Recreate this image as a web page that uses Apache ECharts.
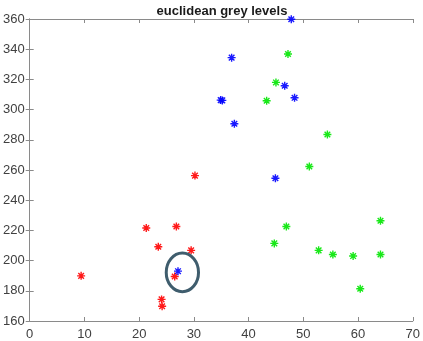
<!DOCTYPE html>
<html>
<head>
<meta charset="utf-8">
<script src="https://cdn.jsdelivr.net/npm/echarts@6/dist/echarts.min.js"></script>
<style>
  html, body { margin: 0; padding: 0; background: #fff; }
  #chart { width: 423px; height: 341px; }
</style>
</head>
<body>
<div id="chart"></div>
<script>
// points, [x, y]
const redPoints = [
  [30.2, 256.3], [21.3, 221.6], [26.8, 222.6], [23.5, 209.2], [29.5, 206.8],
  [9.4, 189.9], [26.5, 189.5], [24.1, 174.3], [24.2, 169.8]
]
const greenPoints = [
  [47.2, 336.8], [45.0, 318.0], [43.3, 305.9], [54.4, 283.5], [51.1, 262.3],
  [64.1, 226.4], [46.9, 222.6], [44.7, 211.4], [52.8, 206.8], [55.4, 204.0],
  [59.1, 203.0], [64.1, 204.0], [60.4, 181.4]
]
const bluePoints = [
  [47.8, 359.8], [36.9, 334.4], [34.9, 306.3], [35.2, 306.1], [46.6, 315.8],
  [48.4, 307.8], [37.4, 290.6], [44.9, 254.5], [27.1, 193.0]
]
// ellipse drawn round the odd point: centre and radii in data units
const ringCentre = [[27.9, 192.2]]
const ringRadius = [2.95, 12.8]

const xTicks = [0, 10, 20, 30, 40, 50, 60, 70]
const yTicks = [160, 180, 200, 220, 240, 260, 280, 300, 320, 340, 360]

const starPath = 'path://M0,-1L0,1M-1,0L1,0M-0.7,-0.7L0.7,0.7M-0.7,0.7L0.7,-0.7'
const axisColor = '#8a8a8a'
const labelColor = '#404040'
const font = 'Liberation Sans, Arial, sans-serif'

function starSeries(data, color) {
  return {
    type: 'scatter',
    data: data,
    symbol: starPath,
    symbolSize: 8,
    itemStyle: { color: 'none', borderColor: color, borderWidth: 1.4, opacity: 0.9 },
    emphasis: { disabled: true },
    z: 3
  }
}

const chart = echarts.init(document.getElementById('chart'))

chart.setOption({
  animation: false,
  title: {
    text: 'euclidean grey levels',
    left: 217,
    textAlign: 'center',
    top: 0,
    textStyle: { fontFamily: font, fontSize: 13, fontWeight: 'bold', color: '#1a1a1a' }
  },
  grid: { left: 29, right: 8, top: 19, bottom: 18 },
  xAxis: [{
    type: 'value',
    min: xTicks[0],
    max: xTicks[xTicks.length - 1],
    interval: 10,
    axisLine: { lineStyle: { color: axisColor, width: 1 } },
    axisTick: { inside: true, length: 4, lineStyle: { color: axisColor } },
    axisLabel: { color: labelColor, fontFamily: font, fontSize: 13, margin: 7 },
    splitLine: { show: false }
  }, {
    type: 'value',
    position: 'top',
    min: xTicks[0],
    max: xTicks[xTicks.length - 1],
    interval: 10,
    axisLine: { lineStyle: { color: axisColor, width: 1 } },
    axisTick: { inside: true, length: 4, lineStyle: { color: axisColor } },
    axisLabel: { show: false },
    splitLine: { show: false }
  }],
  yAxis: [{
    type: 'value',
    min: yTicks[0],
    max: yTicks[yTicks.length - 1],
    interval: 20,
    axisLine: { show: true, lineStyle: { color: axisColor, width: 1 } },
    axisTick: { show: true, inside: true, length: 4, lineStyle: { color: axisColor } },
    axisLabel: { color: labelColor, fontFamily: font, fontSize: 13, margin: 5 },
    splitLine: { show: false }
  }, {
    type: 'value',
    position: 'right',
    min: yTicks[0],
    max: yTicks[yTicks.length - 1],
    interval: 20,
    axisLine: { show: true, lineStyle: { color: axisColor, width: 1 } },
    axisTick: { show: true, inside: true, length: 4, lineStyle: { color: axisColor } },
    axisLabel: { show: false },
    splitLine: { show: false }
  }],
  series: [
    starSeries(redPoints, '#ff0000'),
    starSeries(greenPoints, '#00e600'),
    starSeries(bluePoints, '#0000ff'),
    {
      type: 'custom',
      data: ringCentre,
      silent: true,
      z: 4,
      renderItem: function (params, api) {
        const c = api.coord([api.value(0), api.value(1)])
        const s = api.size(ringRadius)
        const rx = s[0], ry = s[1]
        return {
          type: 'path',
          shape: {
            pathData: 'M' + (c[0] - rx) + ' ' + c[1] +
              'A' + rx + ' ' + ry + ' 0 1 0 ' + (c[0] + rx) + ' ' + c[1] +
              'A' + rx + ' ' + ry + ' 0 1 0 ' + (c[0] - rx) + ' ' + c[1] + 'Z'
          },
          style: { fill: 'none', stroke: '#3f5d6d', lineWidth: 3 }
        }
      }
    }
  ]
})
</script>
</body>
</html>
